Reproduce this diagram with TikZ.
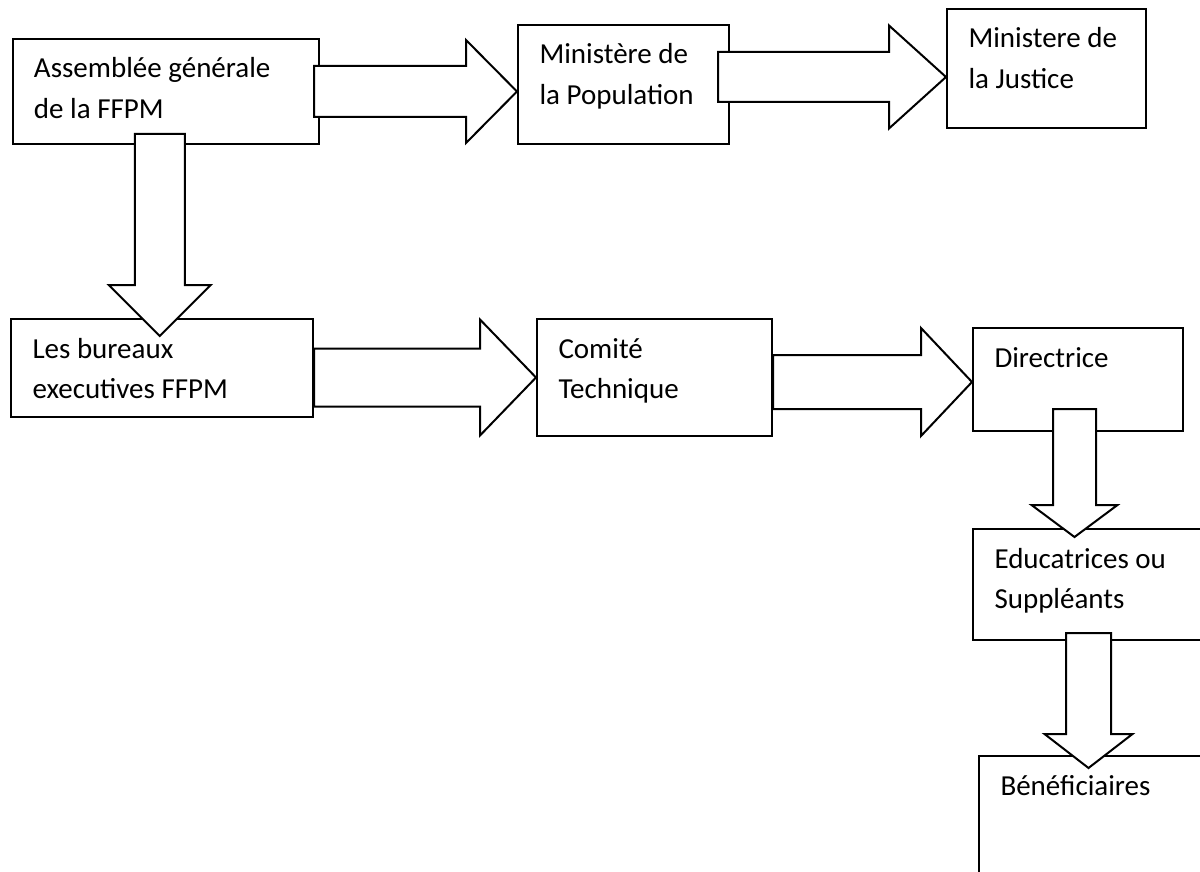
\documentclass[tikz,border=0pt]{standalone}
\usepackage{fontspec}
\setmainfont{Carlito}
\usetikzlibrary{calc}
\tikzset{
  box/.style={draw, line width=2pt, anchor=north west, align=flush left,
    inner xsep=21.5pt, inner ysep=0pt, text height=39pt},
  blockarrow/.style={draw, fill=white, line width=2pt, line join=miter}
}
% block arrows: start, tip, half shaft, half head, head length
\newcommand{\rblock}[5]{%
  \draw[blockarrow] let \p1=(#1), \p2=(#2) in
    (\x1,{\y2+#3}) -- ({\x2-#5},{\y2+#3}) -- ({\x2-#5},{\y2+#4}) -- (\p2)
    -- ({\x2-#5},{\y2-#4}) -- ({\x2-#5},{\y2-#3}) -- (\x1,{\y2-#3}) -- cycle;}
\newcommand{\dblock}[5]{%
  \draw[blockarrow] let \p1=(#1), \p2=(#2) in
    ({\x1-#3},\y1) -- ({\x1-#3},{\y2+#5}) -- ({\x1-#4},{\y2+#5}) -- (\x1,\y2)
    -- ({\x1+#4},{\y2+#5}) -- ({\x1+#3},{\y2+#5}) -- ({\x1+#3},\y1) -- cycle;}

\begin{document}
\begin{tikzpicture}[x=1pt, y=-1pt, font=\fontsize{29pt}{40.5pt}\selectfont]
    \clip (0,0) rectangle (1200,872);

    \node[box, text width=263.5pt, text depth=66pt] (ass) at (11.5,38) {Assemblée générale\\de la FFPM};
    \node[box, text width=168pt, text depth=80pt] (minpop) at (517,24) {Ministère de\\la Population};
    \node[box, text width=156pt, text depth=80pt] (minjus) at (946,8) {Ministere de\\la Justice};

    \node[box, text width=259pt, text depth=59pt] (bur) at (10,318) {Les bureaux\\executives FFPM};
    \node[box, text width=192pt, text depth=78pt] (tech) at (536,318) {Comité\\Technique};
    \node[box, text width=167pt, text depth=64pt] (dir) at (972,327) {Directrice};

    \node[box, text width=215pt, text depth=72pt] (edu) at (972,528) {Educatrices ou\\Suppléants};
    \node[box, text width=207pt, text depth=91pt] (ben) at (978,755) {Bénéficiaires};

    \rblock{[xshift=-6pt]ass.east}{minpop.west |- ass.east}{25.5pt}{51.5pt}{51pt}
    \rblock{[xshift=-12pt]minpop.east}{[yshift=-8.5pt]minjus.west}{25pt}{51.5pt}{57pt}
    \dblock{[shift={(-6,-11)}]ass.south}{[yshift=-18pt]bur.north}{25pt}{51pt}{51pt}

    \rblock{bur.east}{tech.west}{29pt}{58pt}{56pt}
    \rblock{tech.east}{[yshift=-2.5pt]dir.west}{27pt}{54pt}{51pt}
    \dblock{[shift={(-3.5,-23)}]dir.south}{[yshift=-9pt]edu.north}{21.5pt}{43pt}{32pt}
    \dblock{[shift={(116.5,-8)}]edu.south west}{[yshift=-13pt]ben.north}{22.5pt}{44pt}{34pt}
\end{tikzpicture}
\end{document}
